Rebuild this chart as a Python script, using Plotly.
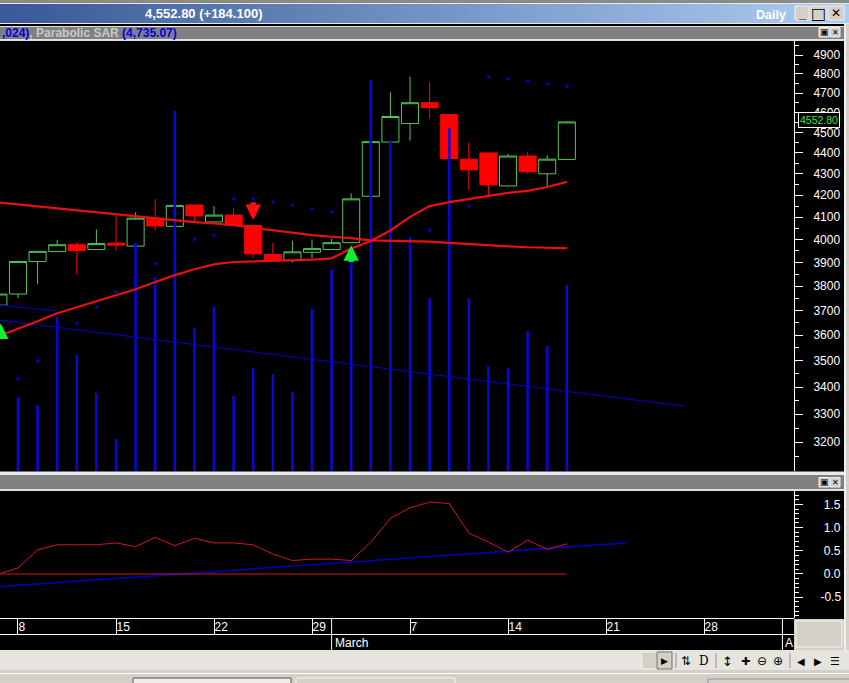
import plotly.graph_objects as go

# ---------- data ----------
bar_index = list(range(-1, 29))
opens  = [3721,3767,3904,3947,3977,3956,3984,3971,4095,4058,4155,4078,4109,4062,3935,3908,3944,3956,3986,4195,4453,4545,4650,4590,4370,4400,4243,4385,4300,4368.7]
highs  = [3767,3908,3950,3999,3988,4045,4105,4122,4182,4153,4155,4150,4141,4062,3987,3995,4000,4003,4208,4455,4704,4785,4757,4590,4451,4400,4395,4405,4388,4556]
lows   = [3721,3750,3808,3947,3850,3956,3952,3971,4040,4058,4073,4078,4060,3920,3908,3900,3918,3956,3986,4195,4453,4460,4568,4373,4224,4200,4243,4300,4237,4368.7]
closes = [3767,3904,3948,3977,3952,3982,3975,4095,4060,4153,4105,4109,4064,3937,3908,3946,3960,3986,4183,4455,4580,4650,4625,4373,4319,4248,4385,4310,4370,4552.8]
volume = [60,74,66,154,116,78,32,228,194,360,143,164,75,103,97,79,162,202,211,391,331,234,173,343,173,105,103,140,125,186]
sar    = [3382,3431,3500,3569,3648,3712,3775,3842,3896,3952,4000,4018,4182,4182,4168,4155,4137,4123,3887,3904,3926,3973,4041,4100,4150,4784,4774,4763,4747,4735.07]
ma_slow = [4166,4157,4147,4138,4129,4119,4109,4101,4093,4085,4077,4071,4064,4052,4041,4028,4019,4012,4006,3996,3994,3993,3991,3985,3979,3974,3970,3966,3964,3962]
ma_fast = [3596,3625,3656,3688,3712,3737,3762,3787,3817,3846,3871,3892,3902,3904,3906,3908,3912,3918,3960,3993,4040,4101,4150,4168,4182,4195,4211,4220,4238,4262]
osc     = [0.0,0.13,0.52,0.63,0.63,0.63,0.67,0.59,0.79,0.61,0.77,0.67,0.67,0.63,0.43,0.29,0.32,0.32,0.29,0.69,1.20,1.43,1.55,1.52,0.88,0.69,0.47,0.73,0.53,0.65]
zero_line = [0.0] * 30
trend_x = [-0.92, 33.93]
trend_y = [3660, 3330]
trend2_x = [-0.92, 2.04]
trend2_y = [3721, 3696]
osc_trend_x = [-0.92, 30.97]
osc_trend_y = [-0.27, 0.67]
price_ticks = [3200,3300,3400,3500,3600,3700,3800,3900,4000,4100,4200,4300,4400,4500,4600,4700,4800,4900]
price_minor = [3150,3250,3350,3450,3550,3650,3750,3850,3950,4050,4150,4250,4350,4450,4550,4650,4750,4850,4950]
osc_ticks = [-0.5,0.0,0.5,1.0,1.5]
osc_labels = ["-0.5","\u00a00.0","\u00a00.5","\u00a01.0","\u00a01.5"]
osc_minor = [-0.9,-0.8,-0.7,-0.6,-0.4,-0.3,-0.2,-0.1,0.1,0.2,0.3,0.4,0.6,0.7,0.8,0.9,1.1,1.2,1.3,1.4,1.6,1.7]
date_pos = [0,5,10,15,20,25,30,35]
date_labels = ["8","15","22","29","7","14","21","28"]
month_pos = [16,39]
month_labels = ["March","A"]
last_price = 4552.80

W, H = 849, 683
RED, GREEN, BLUE = "#FF0000", "#58C458", "#0808D8"
LOG_RANGE = [3.49136, 3.69697]

def px(x): return x / W
def py(y): return 1 - y / H

fig = go.Figure()
fig.add_trace(go.Candlestick(
    x=bar_index, open=opens, high=highs, low=lows, close=closes, xaxis="x", yaxis="y",
    whiskerwidth=0,
    increasing=dict(line=dict(color=GREEN, width=1), fillcolor="rgba(0,0,0,0)"),
    decreasing=dict(line=dict(color=RED, width=1), fillcolor=RED), hoverinfo="skip"))
fig.add_trace(go.Bar(x=bar_index, y=volume, width=0.13, marker=dict(color=BLUE, line_width=0), xaxis="x", yaxis="y3", hoverinfo="skip"))
fig.add_trace(go.Scatter(x=bar_index, y=sar, mode="markers", marker=dict(color="#0000C8", size=3.5), xaxis="x", yaxis="y4", hoverinfo="skip"))
fig.add_trace(go.Scatter(x=trend_x, y=trend_y, mode="lines", line=dict(color="#0000D0", width=1), xaxis="x", yaxis="y4", hoverinfo="skip"))
fig.add_trace(go.Scatter(x=trend2_x, y=trend2_y, mode="lines", line=dict(color="#0000D0", width=1), xaxis="x", yaxis="y4", hoverinfo="skip"))
fig.add_trace(go.Scatter(x=bar_index, y=ma_slow, mode="lines", line=dict(color="#E81010", width=2.2), xaxis="x", yaxis="y4", hoverinfo="skip"))
fig.add_trace(go.Scatter(x=bar_index, y=ma_fast, mode="lines", line=dict(color="#E81010", width=2.2), xaxis="x", yaxis="y4", hoverinfo="skip"))
fig.add_trace(go.Scatter(x=osc_trend_x, y=osc_trend_y, mode="lines", line=dict(color="#0000C0", width=1.5), xaxis="x", yaxis="y2", hoverinfo="skip"))
fig.add_trace(go.Scatter(x=bar_index, y=zero_line, mode="lines", line=dict(color="#D0181C", width=1), xaxis="x", yaxis="y2", hoverinfo="skip"))
fig.add_trace(go.Scatter(x=bar_index, y=osc, mode="lines", line=dict(color="#D0181C", width=1), xaxis="x", yaxis="y2", hoverinfo="skip"))

# ---------- window chrome ----------
shapes = []
def rect(x0, y0, x1, y1, fill, line=None, layer="below"):
    shapes.append(dict(type="rect", xref="paper", yref="paper", x0=px(x0), x1=px(x1), y0=py(y0), y1=py(y1),
                       fillcolor=fill, line=dict(width=1 if line else 0, color=line or fill), layer=layer))
def hline(x0, x1, y, color="#FFFFFF"):
    shapes.append(dict(type="line", xref="paper", yref="paper", x0=px(x0), x1=px(x1), y0=py(y), y1=py(y),
                       line=dict(color=color, width=1), layer="below"))
def vline(x, y0, y1, color="#FFFFFF"):
    shapes.append(dict(type="line", xref="paper", yref="paper", x0=px(x), x1=px(x), y0=py(y0), y1=py(y1),
                       line=dict(color=color, width=1), layer="below"))

rect(0, 0, W, 4, "#8A8A86")
hline(0, W, 3.5, "#E8E8E8")
n = 60
for k in range(n):
    t = k / (n - 1)
    c = "#%02X%02X%02X" % (int(58 + t * (172 - 58)), int(90 + t * (204 - 90)), int(152 + t * (240 - 152)))
    rect(W * k / n, 4, W * (k + 1) / n + 1, 23, c)
rect(0, 23, W, 24, "#E8E8E8")
rect(0, 24, W, 26, "#000000")
rect(0, 26, 844, 27, "#E0E0E0")
rect(0, 27, 844, 39, "#808080")
rect(0, 39, 844, 41, "#E0E0E0")
rect(0, 471.5, 844, 475, "#E8E8E8")
rect(0, 475, 844, 489, "#808080")
rect(0, 489, 844, 491, "#E0E0E0")
rect(844, 24, W, 650, "#D4D0C8")
rect(844, 24, 846, 650, "#F0F0F0")
hline(0, 794, 618.5)
hline(0, 794, 634.5)
rect(0, 650, W, 670, "#E6E4DE")
rect(0, 670, W, H, "#D4D0C8")
hline(0, W, 673.5, "#FFFFFF")
rect(794, 619, 844, 650, "#D4D0C8")
rect(796, 621, 842, 647, "#D4D0C8", "#F4F4F4")
# title buttons
for x0, x1 in [(795, 809), (811, 826), (828, 844)]:
    rect(x0, 6, x1, 20, "#D4D0C8", "#F0F0F0")
for x0, x1 in [(819, 829), (830, 840)]:
    rect(x0, 27.5, x1, 37, "#D4D0C8", "#F0F0F0")
for x0, x1 in [(819, 829), (830, 840)]:
    rect(x0, 477.5, x1, 487, "#D4D0C8", "#F0F0F0")
# toolbar
rect(642, 652, 657, 669, "#D4D0C8", "#F0F0F0")
rect(657, 652, 672, 669, "#D4D0C8", "#707070")
for xs in (676, 716, 790):
    vline(xs, 653, 668, "#909090")
# task bar tabs
rect(133, 678, 291, H + 2, "#EFEDE6", "#555555")
rect(296, 678, 455, H + 2, "#D4D0C8", "#F8F8F8")
rect(708, 679, W + 2, H + 2, "#D4D0C8", "#909090")
# month band ticks (bar-based position)
for p in month_pos:
    shapes.append(dict(type="line", xref="x", yref="paper", x0=p, x1=p, y0=py(618.5), y1=py(650),
                       line=dict(color="#FFFFFF", width=1), layer="below"))

# ---------- annotations ----------
FONT = "Liberation Sans"
def text(x, y, s, size=12, color="#FFFFFF", anchor="center", family=FONT):
    return dict(xref="paper", yref="paper", x=px(x), y=py(y), text=s, showarrow=False, xanchor=anchor,
                yanchor="middle", font=dict(family=family, size=size, color=color))
ann = [
    text(203, 14, "<b>4,552.80 (+184.100)</b>", 13),
    text(788, 14.5, "<b>Daily</b>", 12.5, anchor="right"),
    text(802, 13, "<b>_</b>", 13, "#000000"),
    text(818.5, 13, "<b>\u25a1</b>", 16, "#000000", family="DejaVu Sans"),
    text(836, 13, "<b>\u2715</b>", 12, "#000000", family="DejaVu Sans"),
    text(0, 33, "<b><span style='color:#0000E0'>,024)</span>, <span style='color:#C8C8C8'>Parabolic SAR</span> <span style='color:#0000E0'>(4,735.07)</span></b>", 12, "#C8C8C8", anchor="left"),
]
for yc in (32, 482):
    ann.append(text(824, yc, "\u25a3", 9, "#000000", family="DejaVu Sans"))
    ann.append(text(835, yc, "\u2715", 8, "#000000", family="DejaVu Sans"))
for xc, s, sz, fam in [(664, "\u25b6", 9, "DejaVu Sans"), (686, "\u21c5", 12, "DejaVu Sans"), (704, "D", 12, "DejaVu Serif"),
                       (727, "\u2195", 13, "DejaVu Sans"), (745, "\u271a", 11, "DejaVu Sans"), (762, "\u2296", 12, "DejaVu Sans"),
                       (778, "\u2295", 12, "DejaVu Sans"), (801, "\u25c0", 10, "DejaVu Sans"), (818, "\u25b6", 10, "DejaVu Sans"),
                       (835, "\u2630", 11, "DejaVu Sans")]:
    ann.append(text(xc, 661, s, sz, "#000000", family=fam))
for p, s in zip(month_pos, month_labels):
    ann.append(dict(xref="x", yref="paper", x=p, y=py(642.5), text=s, showarrow=False, xanchor="left", xshift=1,
                    yanchor="middle", font=dict(family=FONT, size=12, color="#FFFFFF")))
# last-price tag
ann.append(dict(xref="paper", yref="y", x=px(818.5), y=3.6582, yshift=2, text=f"{last_price:.2f}", showarrow=False,
                xanchor="center", yanchor="middle", bgcolor="#000000", bordercolor="#FFFFFF", borderwidth=1, borderpad=1,
                font=dict(family=FONT, size=10.5, color="#3FE03F")))
# signal arrows: a triangular head plus a separate stem
for xi, price, col, ay in [(12, 3.6114, "#FF1010", -19), (17, 3.5993, "#10F030", 18), (-0.88, 3.5619, "#10F030", 16)]:
    ann.append(dict(xref="x", yref="y", x=xi, y=price, ax=0, ay=ay, text="", showarrow=True,
                    arrowcolor=col, arrowwidth=5, arrowhead=2, arrowsize=0.62))
    direction = 1 if ay < 0 else -1
    ann.append(dict(xref="x", yref="y", x=xi, y=price, yshift=direction * 6, ax=0, ay=ay + direction * 6, text="", showarrow=True,
                    arrowcolor=col, arrowwidth=5, arrowhead=0))

fig.update_layout(
    width=W, height=H, autosize=False, margin=dict(l=0, r=0, t=0, b=0, pad=0),
    paper_bgcolor="#000000", plot_bgcolor="#000000", showlegend=False, barmode="overlay",
    boxgap=0.13, boxgroupgap=0, dragmode=False, hovermode=False, shapes=shapes, annotations=ann,
    xaxis=dict(domain=[0, 794 / W], range=[-0.918, 39.59], anchor="y2", showgrid=False, zeroline=False,
               showline=False, tickmode="array", tickvals=date_pos, ticktext=date_labels, ticks="outside",
               ticklen=16, tickwidth=1, tickcolor="#FFFFFF", ticklabelposition="outside right",
               ticklabelstandoff=-2, tickfont=dict(family=FONT, size=12, color="#FFFFFF"),
               rangeslider=dict(visible=False), type="linear"),
    yaxis=dict(domain=[py(471), py(41)], type="log", range=LOG_RANGE, side="right", anchor="x", showgrid=False,
               zeroline=False, showline=True, linecolor="#FFFFFF", linewidth=1, tickmode="array",
               tickvals=price_ticks, ticktext=[str(v) for v in price_ticks], ticks="outside", ticklen=8, tickwidth=1,
               tickcolor="#FFFFFF", tickfont=dict(family=FONT, size=12, color="#FFFFFF"), ticklabelstandoff=8,
               minor=dict(tickmode="array", tickvals=price_minor, ticks="outside", ticklen=4, tickwidth=1, tickcolor="#FFFFFF", showgrid=False)),
    yaxis2=dict(domain=[py(618), py(491)], range=[-0.95, 1.79], side="right", anchor="x", showgrid=False, zeroline=False,
                showline=True, linecolor="#FFFFFF", linewidth=1, tickmode="array", tickvals=osc_ticks, ticktext=osc_labels,
                ticks="outside", ticklen=8, tickwidth=1, tickcolor="#FFFFFF", ticklabelstandoff=15,
                tickfont=dict(family=FONT, size=12, color="#FFFFFF"),
                minor=dict(tickmode="array", tickvals=osc_minor, ticks="outside", ticklen=4, tickwidth=1, tickcolor="#FFFFFF", showgrid=False)),
    yaxis3=dict(overlaying="y", range=[0, 430], visible=False, anchor="x", side="right"),
    yaxis4=dict(overlaying="y", type="log", range=LOG_RANGE, visible=False, anchor="x", side="right"),
)
fig.write_html("out.html", config=dict(displayModeBar=False, staticPlot=True),
               post_script="document.body.style.margin='0';document.body.style.overflow='hidden';")
